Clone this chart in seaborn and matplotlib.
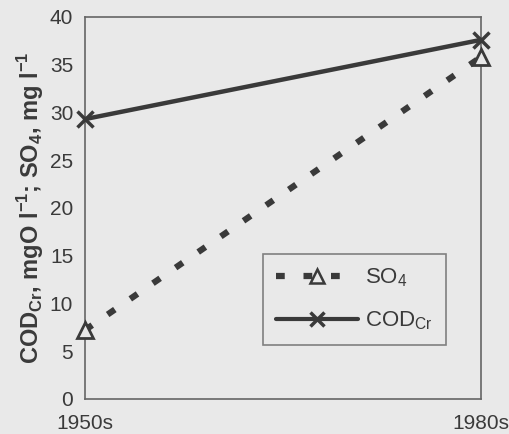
import matplotlib
matplotlib.use("Agg")
import matplotlib.pyplot as plt
import seaborn as sns
import pandas as pd
from matplotlib.lines import Line2D

periods = ["1950s", "1980s"]
so4_values = [7.2, 35.8]
cod_values = [29.3, 37.6]
y_ticks = [0, 5, 10, 15, 20, 25, 30, 35, 40]

sns.set_style("white")
plt.rcParams['font.family'] = ['Liberation Sans', 'DejaVu Sans']

bg = "#e9e9e9"
ink = "#3a3a3a"
dash = (0, (1.4, 3.0))

fig = plt.figure(figsize=(5.09, 4.34), dpi=100, facecolor=bg)
ax = fig.add_axes([0.167, 0.081, 0.778, 0.880])
ax.set_facecolor(bg)

x_pos = [0, 1]
df_so4 = pd.DataFrame({"x": x_pos, "y": so4_values})
df_cod = pd.DataFrame({"x": x_pos, "y": cod_values})

sns.lineplot(data=df_cod, x="x", y="y", ax=ax, color=ink, linewidth=3.2,
             marker="x", markersize=11, markeredgewidth=2.5, markeredgecolor=ink,
             clip_on=False, zorder=5)
sns.lineplot(data=df_so4, x="x", y="y", ax=ax, color=ink, linewidth=4.5,
             linestyle=dash, marker="^", markersize=12,
             markerfacecolor=bg, markeredgecolor=ink, markeredgewidth=2,
             clip_on=False, zorder=5)

ax.set_xlim(0, 1)
ax.set_ylim(0, 40)
ax.set_xticks(x_pos)
ax.set_xticklabels(periods, fontsize=15)
ax.set_yticks(y_ticks)
ax.set_yticklabels([str(t) for t in y_ticks], fontsize=15)
ax.tick_params(axis="y", direction="inout", length=10, width=1, color="#555555", colors=ink)
ax.tick_params(axis="x", length=0, pad=11, colors=ink)
for s in ax.spines.values():
    s.set_color("#666666")
    s.set_linewidth(1.2)

ax.set_ylabel("COD$_{\\mathregular{Cr}}$, mgO l$^{\\mathregular{-1}}$; SO$_{\\mathregular{4}}$, mg l$^{\\mathregular{-1}}$",
              fontsize=17, fontweight="bold", color=ink, labelpad=3)
ax.set_xlabel("")

handles = [
    Line2D([], [], color=ink, linewidth=4.5, linestyle=dash, marker="^",
           markersize=10, markerfacecolor=bg, markeredgecolor=ink, markeredgewidth=1.8),
    Line2D([], [], color=ink, linewidth=3, marker="x", markersize=10, markeredgewidth=2.5),
]
leg = ax.legend(handles, ["SO$_{\\mathregular{4}}$", "COD$_{\\mathregular{Cr}}$"],
                loc="lower right", bbox_to_anchor=(0.912, 0.14), fontsize=16,
                frameon=True, fancybox=False, handlelength=3.7, handletextpad=0.3,
                borderpad=0.6, labelspacing=0.9, borderaxespad=0)
leg.get_frame().set_edgecolor("#666666")
leg.get_frame().set_facecolor(bg)
leg.get_frame().set_linewidth(1.2)
for t in leg.get_texts():
    t.set_color(ink)

fig.savefig("out.png", dpi=100, facecolor=bg)
